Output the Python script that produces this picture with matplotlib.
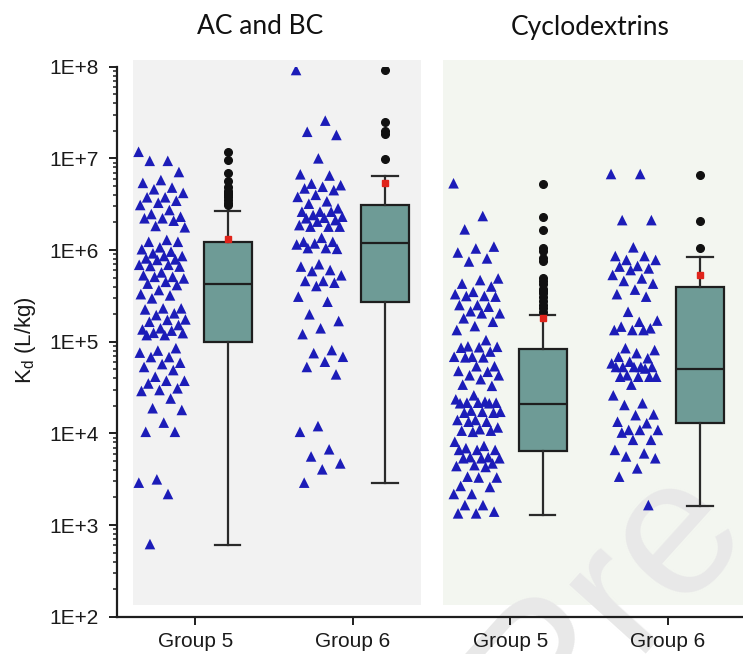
import numpy as np
import matplotlib.pyplot as plt
from matplotlib.patches import Rectangle
from matplotlib.ticker import LogLocator, NullFormatter, FixedLocator, FixedFormatter

plt.rcParams['font.family'] = ['Liberation Sans', 'DejaVu Sans']

# categories
group_labels = ['Group 5', 'Group 6', 'Group 5', 'Group 6']
panel_titles = ['AC and BC', 'Cyclodextrins']

# individual Kd values (L/kg)
ac_g5 = [1.18e7, 9.4e6, 9.4e6, 7.1e6, 5.8e6, 5.4e6, 4.8e6, 4.6e6, 4.2e6, 3.76e6, 3.76e6,
         3.45e6, 3.28e6, 3.1e6, 2.73e6, 2.47e6, 2.31e6, 2.22e6, 2.22e6, 2.09e6, 1.83e6,
         1.77e6, 1.29e6, 1.23e6, 1.23e6, 1.07e6, 1.02e6, 9.6e5, 9.2e5, 8.6e5, 8.6e5, 8.1e5,
         7.9e5, 7.8e5, 6.9e5, 6.9e5, 6.7e5, 6.6e5, 5.7e5, 5.3e5, 5.1e5, 5.1e5, 4.9e5, 4.5e5,
         4.3e5, 4.15e5, 3.66e5, 3.3e5, 3.2e5, 2.97e5, 2.31e5, 2.31e5, 2.25e5, 2.04e5, 1.95e5,
         1.75e5, 1.73e5, 1.65e5, 1.52e5, 1.40e5, 1.36e5, 1.32e5, 1.25e5, 1.24e5, 1.18e5,
         1.18e5, 8.5e4, 8.0e4, 7.6e4, 6.8e4, 6.8e4, 5.9e4, 5.7e4, 5.3e4, 4.9e4, 4.15e4,
         3.75e4, 3.75e4, 3.5e4, 3.1e4, 2.97e4, 2.9e4, 2.4e4, 1.88e4, 1.8e4, 1.31e4, 1.04e4,
         1.04e4, 3.15e3, 2.9e3, 2.18e3, 6.2e2]
ac_g6 = [9.2e7, 2.58e7, 1.95e7, 1.8e7, 1.0e7, 6.7e6, 6.5e6, 5.3e6, 5.1e6, 4.9e6, 4.7e6,
         4.5e6, 4.0e6, 3.8e6, 3.4e6, 3.2e6, 2.85e6, 2.62e6, 2.62e6, 2.62e6, 2.41e6, 2.31e6,
         2.25e6, 2.22e6, 2.12e6, 2.04e6, 1.87e6, 1.8e6, 1.8e6, 1.8e6, 1.36e6, 1.23e6, 1.23e6,
         1.18e6, 1.15e6, 1.05e6, 1.05e6, 1.03e6, 7.0e5, 6.6e5, 6.05e5, 5.9e5, 5.3e5, 4.6e5,
         4.6e5, 4.4e5, 4.05e5, 3.1e5, 2.73e5, 1.99e5, 1.68e5, 1.40e5, 1.21e5, 8.1e4, 7.5e4,
         6.85e4, 6.05e4, 5.3e4, 4.4e4, 1.2e4, 1.04e4, 6.7e3, 5.6e3, 4.7e3, 4.05e3, 2.9e3]
cd_g5 = [5.35e6, 2.35e6, 1.68e6, 1.09e6, 1.04e6, 9.4e5, 8.1e5, 7.5e5, 4.9e5, 4.7e5, 4.3e5,
         4.0e5, 3.5e5, 3.3e5, 3.15e5, 3.15e5, 3.1e5, 2.51e5, 2.51e5, 2.41e5, 2.15e5, 2.04e5,
         2.04e5, 1.8e5, 1.65e5, 1.48e5, 1.34e5, 1.04e5, 8.9e4, 8.8e4, 8.7e4, 8.6e4, 7.8e4,
         6.85e4, 6.85e4, 6.75e4, 6.75e4, 5.4e4, 5.4e4, 4.8e4, 4.7e4, 4.3e4, 4.3e4, 3.9e4,
         3.4e4, 3.3e4, 2.6e4, 2.35e4, 2.22e4, 2.16e4, 2.16e4, 2.16e4, 2.13e4, 2.13e4, 1.77e4,
         1.72e4, 1.72e4, 1.68e4, 1.68e4, 1.4e4, 1.4e4, 1.34e4, 1.34e4, 1.16e4, 1.11e4, 1.07e4,
         1.07e4, 1.04e4, 8.1e3, 7.3e3, 6.9e3, 6.6e3, 6.6e3, 6.6e3, 5.5e3, 5.5e3, 5.35e3,
         5.35e3, 5.35e3, 4.7e3, 4.5e3, 4.4e3, 4.3e3, 3.37e3, 3.3e3, 3.3e3, 2.67e3, 2.6e3,
         2.18e3, 2.18e3, 1.65e3, 1.65e3, 1.4e3, 1.34e3, 1.34e3]
cd_g6 = [6.75e6, 6.75e6, 2.12e6, 2.12e6, 1.07e6, 8.6e5, 8.6e5, 7.8e5, 7.8e5, 6.7e5, 6.6e5,
         6.3e5, 6.05e5, 5.35e5, 4.9e5, 4.6e5, 4.3e5, 3.7e5, 3.3e5, 3.1e5, 2.12e5, 1.7e5,
         1.65e5, 1.46e5, 1.4e5, 1.34e5, 1.34e5, 1.34e5, 8.5e4, 8.1e4, 7.5e4, 6.85e4, 6.6e4,
         6.05e4, 5.8e4, 5.3e4, 5.3e4, 5.3e4, 5.3e4, 5.3e4, 5.1e4, 4.3e4, 4.15e4, 4.15e4,
         4.15e4, 4.15e4, 3.4e4, 2.6e4, 2.13e4, 2.04e4, 1.61e4, 1.58e4, 1.34e4, 1.29e4, 1.09e4,
         1.09e4, 1.09e4, 1.02e4, 8.5e3, 8.5e3, 6.6e3, 6.05e3, 5.6e3, 5.35e3, 4.15e3, 3.37e3,
         1.65e3]

# box plot statistics
box_q1 = [1.0e5, 2.69e5, 6.5e3, 1.29e4]
box_med = [4.23e5, 1.18e6, 2.07e4, 5.1e4]
box_q3 = [1.21e6, 3.1e6, 8.3e4, 3.92e5]
whis_lo = [6.05e2, 2.85e3, 1.28e3, 1.63e3]
whis_hi = [2.67e6, 6.5e6, 1.95e5, 8.45e5]
means = [1.33e6, 5.35e6, 1.8e5, 5.4e5]
fliers = [
    [1.16e7, 9.6e6, 7.0e6, 5.6e6, 4.9e6, 4.4e6, 4.2e6, 4.0e6, 3.8e6, 3.5e6, 3.3e6, 3.1e6],
    [9.2e7, 2.5e7, 1.99e7, 1.83e7, 9.8e6],
    [5.25e6, 2.31e6, 1.65e6, 1.06e6, 9.8e5, 8.1e5, 7.6e5, 4.9e5, 4.6e5, 4.3e5, 3.8e5,
     3.6e5, 3.37e5, 3.1e5, 2.8e5, 2.5e5, 2.31e5, 2.12e5],
    [6.6e6, 2.07e6, 1.06e6],
]

W, H = 743, 654
fig = plt.figure(figsize=(W / 100, H / 100), dpi=100)
ax = fig.add_axes([117 / W, 1 - 616.7 / H, (W - 117) / W, 550 / H])
ax.set_yscale('log')
ax.set_ylim(1e2, 1e8)
ax.set_xlim(0.503, 4.478)

# shaded panels (x in data, y in axes fraction)
trans = ax.get_xaxis_transform()
ax.add_patch(Rectangle((0.605, 0.021), 2.433 - 0.605, 1.012 - 0.021, transform=trans,
                       facecolor='#f2f2f2', edgecolor='none', clip_on=False, zorder=0))
ax.add_patch(Rectangle((2.573, 0.021), 2.2, 1.012 - 0.021, transform=trans,
                       facecolor='#f3f6f0', edgecolor='none', clip_on=False, zorder=0))

# faint watermark, kept behind the ticks and marks
ax.text(0.82, 0.08, 'Pre', fontsize=140, rotation=48, color='#e8e8e8',
        ha='center', va='center', transform=fig.transFigure, clip_on=False, zorder=0.5)

positions = np.arange(1, 5)
all_points = [ac_g5, ac_g6, cd_g5, cd_g6]
golden = 0.6180339887
for pos, vals in zip(positions, all_points):
    idx = np.arange(len(vals))
    jitter = ((idx * golden) % 1.0 - 0.5) * 0.30
    ax.scatter(pos - 0.21 + jitter, vals, marker='^', s=58, color='#1c1cb8',
               edgecolors='none', zorder=3)

stats = []
for i in range(4):
    stats.append(dict(med=box_med[i], q1=box_q1[i], q3=box_q3[i], whislo=whis_lo[i],
                      whishi=whis_hi[i], mean=means[i], fliers=fliers[i]))
ax.bxp(stats, positions=positions + 0.205, widths=0.305, capwidths=0.16,
       showmeans=True, patch_artist=True, manage_ticks=False,
       boxprops=dict(facecolor='#6e9b96', edgecolor='#1e1e1e', linewidth=1.6),
       medianprops=dict(color='#1e1e1e', linewidth=1.6),
       whiskerprops=dict(color='#2a2a2a', linewidth=1.6),
       capprops=dict(color='#2a2a2a', linewidth=1.6),
       flierprops=dict(marker='o', markerfacecolor='#111111', markeredgecolor='#111111',
                       markersize=5.5),
       meanprops=dict(marker='s', markerfacecolor='#e0241b', markeredgecolor='#e0241b',
                      markersize=4.5))

for s in ['top', 'right']:
    ax.spines[s].set_visible(False)
for s in ['left', 'bottom']:
    ax.spines[s].set_linewidth(1.6)
    ax.spines[s].set_color('#1e1e1e')
ax.patch.set_visible(False)

ax.yaxis.set_major_locator(FixedLocator([10.0 ** k for k in range(2, 9)]))
ax.yaxis.set_major_formatter(FixedFormatter(['1E+%d' % k for k in range(2, 9)]))
ax.yaxis.set_minor_locator(LogLocator(base=10, subs=np.arange(2, 10), numticks=20))
ax.yaxis.set_minor_formatter(NullFormatter())
ax.set_xticks(positions)
ax.set_xticklabels(group_labels)
ax.tick_params(axis='both', which='major', direction='out', length=6, width=1.4,
               labelsize=15, color='#1e1e1e', labelcolor='#1a1a1a')
ax.tick_params(axis='y', which='major', pad=7)
ax.tick_params(axis='x', which='major', pad=5)
ax.tick_params(axis='y', which='minor', direction='out', length=3, width=1.1, color='#1e1e1e')

fig.text(25 / W, 1 - 340 / H, r'K$_\mathregular{d}$ (L/kg)', rotation=90, fontsize=16,
         ha='center', va='center', color='#1a1a1a')

fig.text(260 / W, 1 - 27 / H, panel_titles[0], fontsize=19, family=['Lato', 'DejaVu Sans'],
         ha='center', va='center', color='#111111')
fig.text(590 / W, 1 - 27 / H, panel_titles[1], fontsize=19, family=['Lato', 'DejaVu Sans'],
         ha='center', va='center', color='#111111')

fig.savefig('out.png', dpi=100)
